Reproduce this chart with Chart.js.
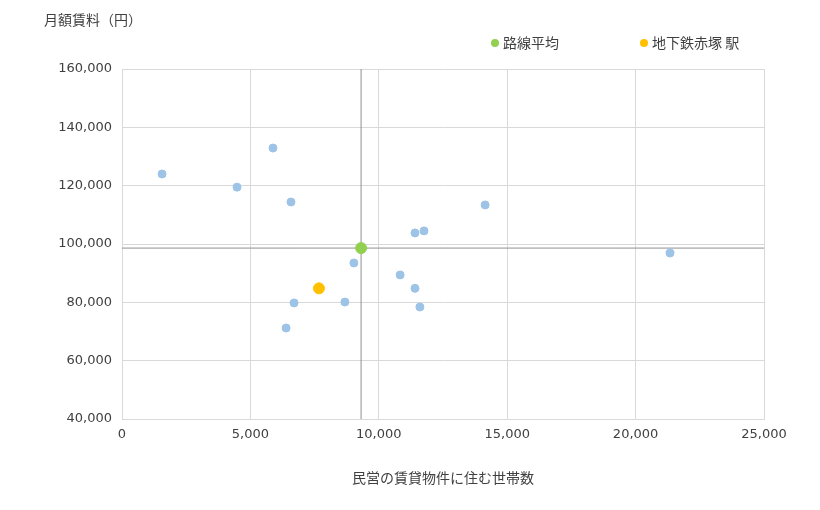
<!DOCTYPE html>
<html>
<head>
<meta charset="utf-8">
<script src="https://cdn.jsdelivr.net/npm/chart.js@4"></script>
<style>
  body { margin: 0; background: #fff; }
  #wrap { width: 820px; height: 510px; }
</style>
</head>
<body>
<div id="wrap"><canvas id="chart"></canvas></div>
<script>
const FONT = "'Noto Sans CJK JP', 'Noto Sans', sans-serif";
const TICK_FONT = "'DejaVu Sans', Verdana, sans-serif";

// other stations: households (x), rent (y)
const otherX = [1560, 4480, 5880, 6580, 6390, 6700, 8680, 9030, 10830, 11410, 11760, 11410, 11600, 14140, 21340];
const otherY = [124000, 119500, 132900, 114400, 71200, 79800, 80100, 93500, 89400, 103800, 104500, 84800, 78400, 113400, 96900];

const averageX = 9310;
const averageY = 98600;
const stationX = 7670;
const stationY = 84800;

const LABEL_AVERAGE = "路線平均";
const LABEL_STATION = "地下鉄赤塚 駅";
const X_TITLE = "民営の賃貸物件に住む世帯数";
const Y_TITLE = "月額賃料（円）";

const toPoints = (xs, ys) => xs.map((x, i) => ({ x, y: ys[i] }));

// crosshair through the average point, y-axis title and legend
const extras = {
  id: "extras",
  beforeDatasetsDraw(chart) {
    const { ctx, chartArea, scales } = chart;
    const px = scales.x.getPixelForValue(averageX);
    const py = scales.y.getPixelForValue(averageY);
    ctx.save();
    ctx.strokeStyle = "#909090";
    ctx.lineWidth = 1;
    ctx.beginPath();
    ctx.moveTo(px, chartArea.top);
    ctx.lineTo(px, chartArea.bottom);
    ctx.moveTo(chartArea.left, py);
    ctx.lineTo(chartArea.right, py);
    ctx.stroke();
    ctx.restore();
  },
  afterDraw(chart) {
    const { ctx } = chart;
    ctx.save();
    ctx.fillStyle = "#404040";
    ctx.font = "14px " + FONT;
    ctx.textBaseline = "middle";
    ctx.fillText(Y_TITLE, 44, 20);

    const items = [
      { x: 495, label: LABEL_AVERAGE, color: "#92d050" },
      { x: 644, label: LABEL_STATION, color: "#ffc000" },
    ];
    items.forEach((item) => {
      ctx.fillStyle = item.color;
      ctx.beginPath();
      ctx.arc(item.x, 43, 4, 0, Math.PI * 2);
      ctx.fill();
      ctx.fillStyle = "#404040";
      ctx.fillText(item.label, item.x + 8, 43);
    });
    ctx.restore();
  },
};

new Chart(document.getElementById("chart"), {
  type: "scatter",
  data: {
    datasets: [
      {
        label: LABEL_AVERAGE,
        data: [{ x: averageX, y: averageY }],
        backgroundColor: "#92d050",
        borderColor: "#92d050",
        pointRadius: 5.5,
      },
      {
        label: LABEL_STATION,
        data: [{ x: stationX, y: stationY }],
        backgroundColor: "#ffc000",
        borderColor: "#ffc000",
        pointRadius: 5.5,
      },
      {
        label: "other",
        data: toPoints(otherX, otherY),
        backgroundColor: "#9dc3e6",
        borderColor: "#9dc3e6",
        pointRadius: 4,
      },
    ],
  },
  options: {
    responsive: true,
    maintainAspectRatio: false,
    animation: false,
    layout: { padding: { top: 69, right: 56, left: 50, bottom: 0 } },
    plugins: {
      legend: { display: false },
      tooltip: { enabled: false },
    },
    scales: {
      x: {
        min: 0,
        max: 25000,
        afterFit: (scale) => { scale.height = 91; },
        ticks: {
          stepSize: 5000,
          color: "#404040",
          padding: 8,
          font: { size: 13, family: TICK_FONT },
          callback: (v) => v.toLocaleString("en-US"),
        },
        grid: { color: "#d9d9d9", drawTicks: false },
        border: { color: "#d9d9d9" },
        title: {
          display: true,
          text: X_TITLE,
          color: "#404040",
          font: { size: 14, family: FONT },
          padding: { top: 22, bottom: 24 },
        },
      },
      y: {
        min: 40000,
        max: 160000,
        afterFit: (scale) => { scale.width = 72; },
        ticks: {
          stepSize: 20000,
          color: "#404040",
          padding: 10,
          font: { size: 13, family: TICK_FONT },
          callback: (v) => v.toLocaleString("en-US"),
        },
        grid: { color: "#d9d9d9", drawTicks: false },
        border: { color: "#d9d9d9" },
      },
    },
  },
  plugins: [extras],
});
</script>
</body>
</html>
